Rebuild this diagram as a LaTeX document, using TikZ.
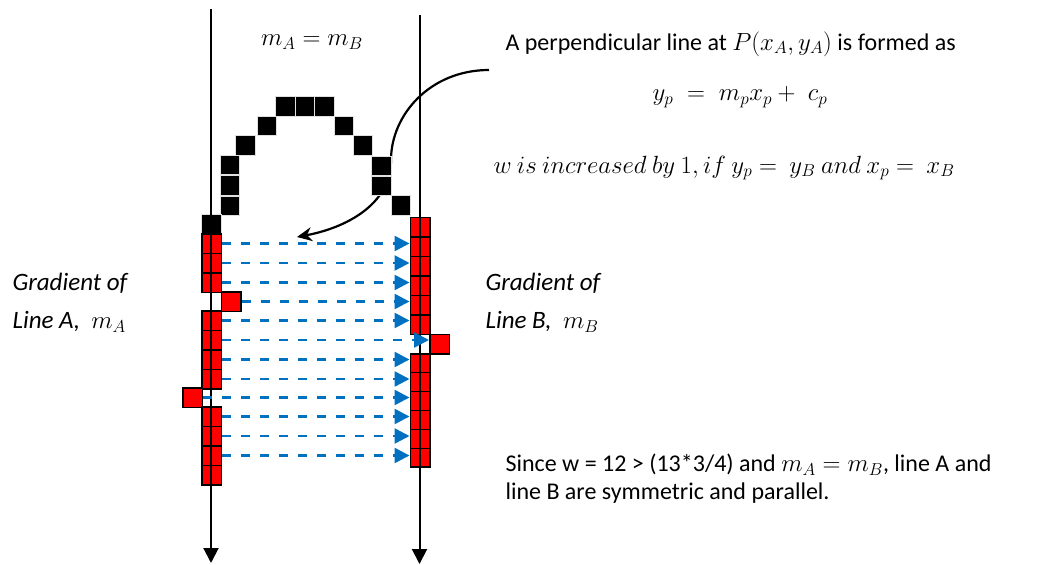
\documentclass[tikz,border=0pt]{standalone}
\usepackage{fontspec}
\setmainfont{Carlito}
\usepackage{amsmath}
\usetikzlibrary{arrows.meta, positioning}
\definecolor{dashblue}{RGB}{0,112,192}
\definecolor{cellred}{RGB}{255,0,0}
\tikzset{
  cell/.style={rectangle, anchor=north west, inner sep=0pt,
               minimum width=19.5pt, minimum height=#1},
  cell/.default=19.5pt,
  redcell/.style={cell=#1, draw=black, line width=1.5pt, fill=cellred},
  redcell/.default=19.5pt,
  blackcell/.style={cell=19.7pt, draw=black!12, line width=0.6pt, fill=black},
  axis/.style={line width=2pt, -{Triangle[length=15pt,width=15pt]}},
  dasharrow/.style={dashblue, line width=2.5pt, dash pattern=on 9pt off 10pt,
                    -{Triangle[length=15pt,width=15pt]}},
  curvearrow/.style={line width=2.2pt, -{Stealth[length=15pt,width=14pt]}},
  txt/.style={font=\fontsize{24}{28}\selectfont},
  gradtxt/.style={font=\fontsize{25}{38}\selectfont\itshape,
                  align=left, anchor=west},
}

\begin{document}
\begin{tikzpicture}[x=1pt, y=-1pt]
\useasboundingbox (0,0) rectangle (1050,565);

% ── Curved pointer from the text to the perpendicular lines ──────────────────
\coordinate (cstart) at (489,70);
\coordinate (cend) at (297,237);
\draw[curvearrow] (cstart) .. controls (430,70) and (391,115) .. (391,160)
  .. controls (391,205) and (345,228) .. (cend);

% ── Black arc of pixels ──────────────────────────────────────────────────────
\foreach \x/\y [count=\n] in {275/96, 294.5/96, 314/96, 256.5/115.5,
    333.5/115.5, 235/135, 352.5/135, 219.5/154.5, 219.5/175, 219.5/195.5,
    371/155.5, 371/175.5, 390.5/195, 201/214}
  \node[blackcell] (k\n) at (\x,\y) {};

% ── Line A pixels ────────────────────────────────────────────────────────────
\foreach \x/\y [count=\n] in {201/233, 201/252.5, 201/272, 220.5/291,
    201/310, 201/329.5, 201/349, 201/368.5, 182/387,
    201/406, 201/425.5, 201/445, 201/464.5}
  \node[redcell] (a\n) at (\x,\y) {};

% ── Line B pixels ────────────────────────────────────────────────────────────
\foreach \x/\y [count=\n] in {409.5/216.5, 409.5/236, 409.5/255.5,
    409.5/275, 409.5/294.5, 409.5/314}
  \node[redcell] (b\n) at (\x,\y) {};
\node[redcell] (b7) at (429,333.5) {};
\foreach \y [count=\n from 8] in {353, 371.9, 390.8, 409.7, 428.6, 447.5}
  \node[redcell=18.9pt] (b\n) at (409.5,\y) {};

% ── Axes ─────────────────────────────────────────────────────────────────────
\coordinate (atop) at (211,9);
\coordinate (abot) at (211,563);
\coordinate (btop) at (419.5,15);
\coordinate (bbot) at (419.5,564);
\draw[axis] (atop) -- (abot);
\draw[axis] (btop) -- (bbot);

% ── Perpendicular lines A -> B ───────────────────────────────────────────────
\foreach \i/\j in {1/2, 2/3, 3/4, 4/5, 5/6, 6/7, 7/8, 8/9, 9/10, 10/11,
    11/12, 12/13}
  \draw[dasharrow] (a\i.east) -- (a\i.east -| b\j.west);

% ── Labels ───────────────────────────────────────────────────────────────────
\node[txt] (mab) at (312,42) {$m_A = m_B$};
\node[txt, anchor=west] (perp) at (502,44)
  {A perpendicular line at $P(x_A, y_A)$ is formed as};
\node[txt] (eqn) at (740,97) {$y_p \;=\; m_p x_p +\; c_p$};
\node[txt] (wrule) at (724,168)
  {$w\ is\ increased\ by\ 1, if\ y_p =\ y_B\ and\ x_p =\ x_B$};
\node[gradtxt] (grada) at (9,303) {Gradient of\\Line A,\ \ $m_A$};
\node[gradtxt] (gradb) at (482,303) {Gradient of\\Line B,\ \ $m_B$};
\node[txt, anchor=west, align=left] (since) at (502,479)
  {Since w = 12 > (13*3/4) and $m_A = m_B$, line A and\\
   line B are symmetric and parallel.};

\end{tikzpicture}
\end{document}
